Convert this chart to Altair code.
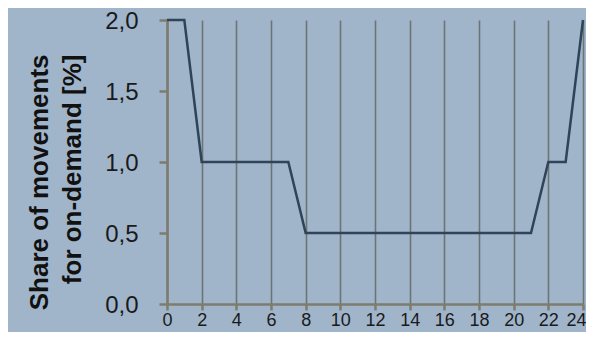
import altair as alt
import pandas as pd

hours = list(range(0, 25))
share = [2.0, 2.0, 1.0, 1.0, 1.0, 1.0, 1.0, 1.0, 0.5, 0.5, 0.5, 0.5, 0.5,
         0.5, 0.5, 0.5, 0.5, 0.5, 0.5, 0.5, 0.5, 0.5, 1.0, 1.0, 2.0]
x_ticks = list(range(0, 25, 2))
y_ticks = [0.0, 0.5, 1.0, 1.5, 2.0]

df = pd.DataFrame({"hour": hours, "share": share})

bg = "#a0b5ca"
axis_col = "#7d7c6e"
grid_col = "#6d7474"

chart = alt.Chart(df).mark_line(color="#2f4459", strokeWidth=2.5).encode(
    x=alt.X("hour:Q", scale=alt.Scale(domain=[0, 24], nice=False, zero=False),
            axis=alt.Axis(values=x_ticks, grid=True, gridColor=grid_col, gridWidth=1.6,
                          gridOpacity=1, domainColor=axis_col, domainWidth=2.5,
                          tickColor=axis_col, tickWidth=2.5, tickSize=6,
                          labelFont="Liberation Sans", labelFontSize=18,
                          labelColor="#1a1a1a", labelPadding=1, title=None,
                          labelFlush=False, labelBaseline="top",
                          labelAlign={"condition": {"test": "datum.value == 24", "value": "right"},
                                      "value": "center"},
                          labelOffset={"condition": {"test": "datum.value == 24", "value": 3},
                                       "value": 0})),
    y=alt.Y("share:Q", scale=alt.Scale(domain=[0, 2], nice=False),
            axis=alt.Axis(values=y_ticks, grid=False, domainColor=axis_col, domainWidth=2.5,
                          tickColor=axis_col, tickWidth=2.5, tickSize=8,
                          labelFont="Liberation Sans", labelFontSize=24,
                          labelColor="#1a1a1a", labelPadding=21, labelOffset=1,
                          labelExpr="replace(format(datum.value, '.1f'), '.', ',')",
                          title=["Share of movements", "for on-demand [%]"],
                          titleFont="Liberation Sans", titleFontSize=26,
                          titleFontWeight="bold", titleColor="#111111",
                          titleAngle=270, titleAlign="right", titleBaseline="alphabetic",
                          titleLineHeight=33, titleX=-120, titleY=34)),
).properties(
    width=416, height=284,
    autosize=alt.AutoSizeParams(type="none"),
    padding={"left": 159, "top": 12, "right": 3, "bottom": 28},
    background=bg,
).configure_view(stroke=None)

chart.save("out.html", embed_options={"renderer": "svg", "actions": False})
